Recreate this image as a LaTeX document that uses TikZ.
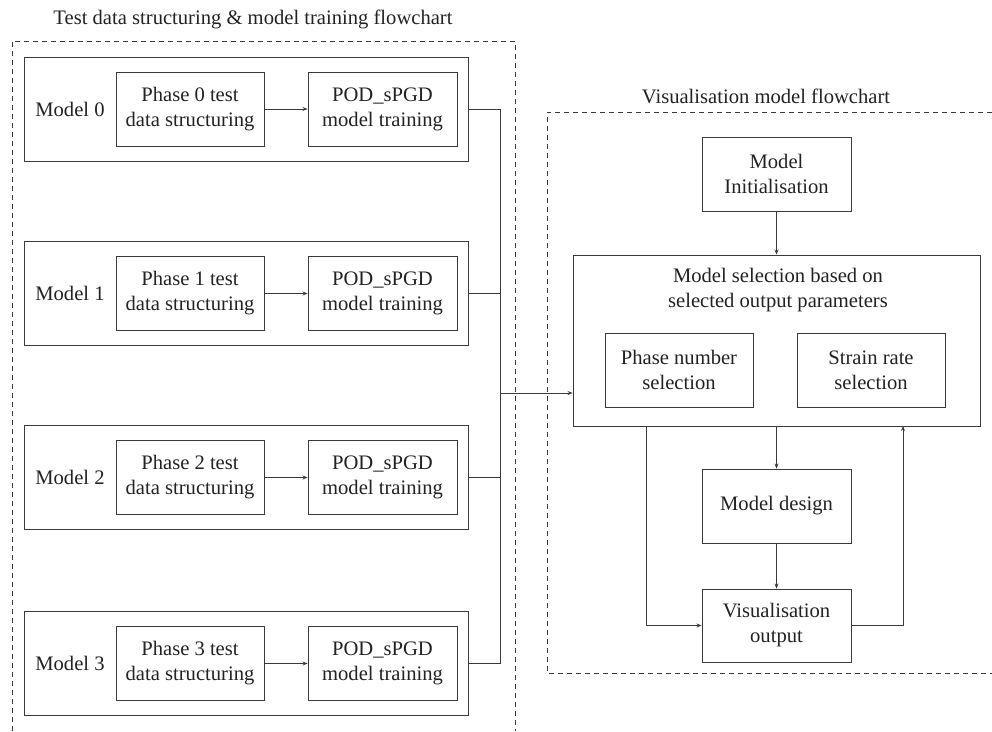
\documentclass[tikz,border=0pt]{standalone}
\usepackage{fontspec}
\setmainfont{Liberation Serif}
\usetikzlibrary{arrows.meta,calc}
\definecolor{ln}{HTML}{3A3A3A}
\definecolor{tx}{HTML}{222222}
\begin{document}
\begin{tikzpicture}[x=1pt,y=-1pt,
  font=\fontsize{20.6}{25}\selectfont,
  every node/.style={text=tx},
  box/.style={draw=ln, line width=0.9pt, align=center, inner sep=0pt},
  grp/.style={draw=ln, line width=0.9pt, dash pattern=on 5pt off 4pt},
  conn/.style={draw=ln, line width=0.9pt},
  arr/.style={conn, -{Stealth[length=5pt,width=4pt]}},
  lbl/.style={inner sep=0pt, align=center}
]
\useasboundingbox (0,0) rectangle (992,731);
% group frames
\draw[grp] (12,731) -- (12,41) -- (515,41) -- (515,731);
\draw[grp] (992,112) -- (547,112) -- (547,673) -- (992,673);
\node[lbl] (t1) at (253,19) {Test data structuring \& model training flowchart};
\node[lbl] (t2) at (766,96) {Visualisation model flowchart};

% left models
\foreach \i/\yc in {0/109, 1/293.5, 2/477.5, 3/663.5}{
  \node[box, minimum width=444pt, minimum height=104pt] (m\i) at (246,\yc) {};
  \node[lbl] (ml\i) at (70,\yc) {Model \i};
  \node[box, minimum width=148pt, minimum height=74pt] (p\i) at (190,\yc) {Phase \i\ test\\data structuring};
  \node[box, minimum width=149pt, minimum height=74pt] (s\i) at (382.5,\yc) {POD\_sPGD\\model training};
  \draw[arr] (p\i) -- (s\i);
}
\coordinate (b0) at (500,109);
\coordinate (b3) at (500,663.5);
\coordinate (ba) at (500,393);
\foreach \i in {0,1,2,3}{ \draw[conn] (m\i.east) -- (m\i.east -| b0); }
\draw[conn] (b0) -- (b3);

% right side
\node[box, minimum width=149pt, minimum height=74pt] (init) at (776.5,174) {Model\\Initialisation};
\node[box, minimum width=407pt, minimum height=171pt] (sel) at (776.5,340.5) {};
\node[lbl] (seltxt) at (778,290) {Model selection based on\\selected output parameters};
\node[box, minimum width=148pt, minimum height=74pt] (ph) at (679,370) {Phase number\\selection};
\node[box, minimum width=148pt, minimum height=74pt] (sr) at (871,370) {Strain rate\\selection};
\node[box, minimum width=149pt, minimum height=74pt] (des) at (776.5,506) {Model design};
\node[box, minimum width=149pt, minimum height=73pt] (vis) at (776.5,625.5) {Visualisation\\output};

\draw[arr] (ba) -- (sel.west |- ba);
\draw[arr] (init) -- (sel);
\draw[arr] (sel.south -| des) -- (des);
\draw[arr] (des) -- (vis);
\coordinate (lft) at (646,426);
\coordinate (rgt) at (903,426);
\draw[arr] (lft) |- (vis.west);
\draw[arr] (vis.east) -| (rgt);
\end{tikzpicture}
\end{document}
